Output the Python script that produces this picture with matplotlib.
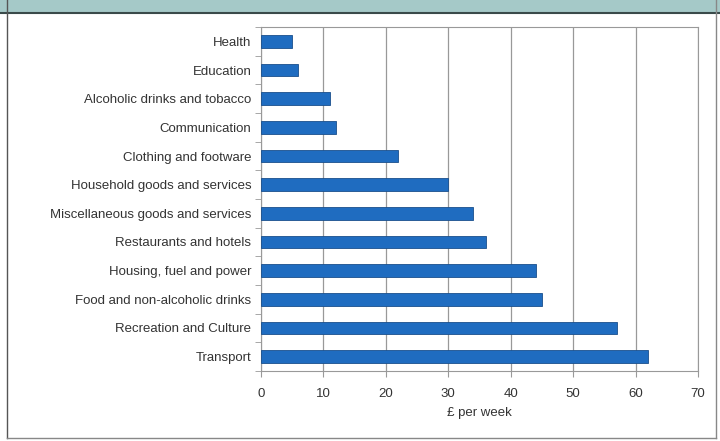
import matplotlib.pyplot as plt
from matplotlib.patches import Rectangle
import numpy as np

plt.rcParams['font.family'] = ['Liberation Sans', 'DejaVu Sans']

categories = ["Transport", "Recreation and Culture", "Food and non-alcoholic drinks",
              "Housing, fuel and power", "Restaurants and hotels",
              "Miscellaneous goods and services", "Household goods and services",
              "Clothing and footware", "Communication", "Alcoholic drinks and tobacco",
              "Education", "Health"]
values = [62, 57, 45, 44, 36, 34, 30, 22, 12, 11, 6, 5]
xticks = [0, 10, 20, 30, 40, 50, 60, 70]

fig = plt.figure(figsize=(7.2, 4.41), dpi=100)

# header band and frame, like the source panel
fig.patches.append(Rectangle((0, 1 - 12/441), 1, 12/441, transform=fig.transFigure,
                             facecolor="#a5c9c8", edgecolor="none", zorder=0))
fig.lines.append(plt.Line2D([0, 1], [1 - 13/441, 1 - 13/441], transform=fig.transFigure,
                            color="#3a4a4a", lw=1.5))
fig.lines.append(plt.Line2D([7/720, 7/720], [3/441, 1], transform=fig.transFigure,
                            color="#555555", lw=1))
fig.lines.append(plt.Line2D([716/720, 716/720], [3/441, 1], transform=fig.transFigure,
                            color="#888888", lw=1))
fig.lines.append(plt.Line2D([7/720, 716/720], [3/441, 3/441], transform=fig.transFigure,
                            color="#888888", lw=1))

ax = fig.add_axes([261/720, 1 - 371/441, 437/720, 344/441])
y = np.arange(len(categories))
ax.barh(y, values, height=0.45, color="#1f6cc0", edgecolor="#1a4f8c", linewidth=0.6, zorder=3)

ax.set_xlim(0, 70)
ax.set_ylim(-0.5, len(categories) - 0.5)
ax.set_xticks(xticks)
ax.set_yticks(y)
ax.set_yticklabels(categories)
ax.set_yticks(np.arange(-0.5, len(categories), 1), minor=True)
ax.tick_params(axis="y", which="major", length=0, pad=7, labelsize=9.5, labelcolor="#333333")
ax.tick_params(axis="y", which="minor", length=4, color="#999999")
ax.tick_params(axis="x", length=4, color="#999999", pad=8, labelsize=9.5, labelcolor="#333333")
ax.grid(axis="x", color="#999999", lw=0.9, zorder=0)
for s in ax.spines.values():
    s.set_color("#999999")
ax.set_xlabel("£ per week", fontsize=9.5, color="#333333", labelpad=5)

plt.savefig("out.png", dpi=100)
